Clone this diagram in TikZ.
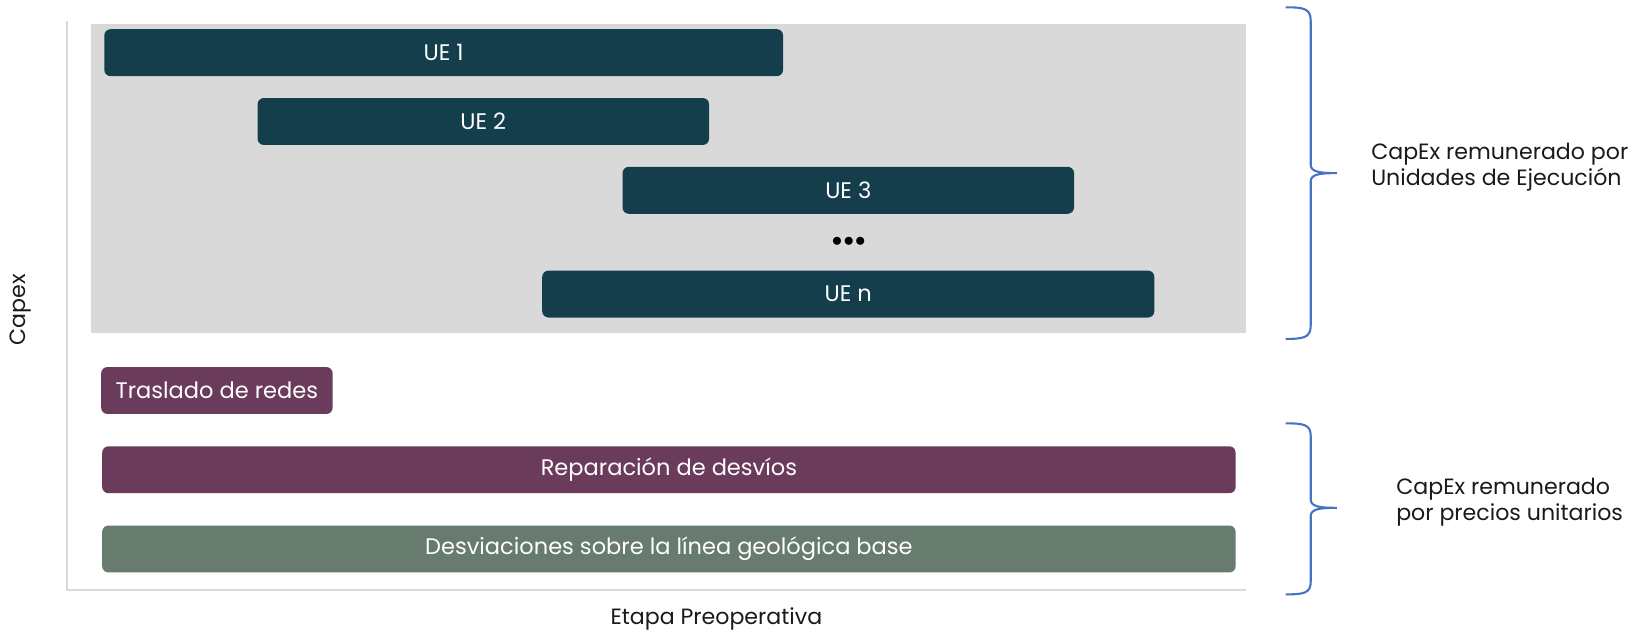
\documentclass[tikz,border=0pt]{standalone}
\usepackage{fontspec}
\setmainfont{Poppins}
\definecolor{ueteal}{HTML}{153E4D}
\definecolor{redpurple}{HTML}{6A3B5B}
\definecolor{geogreen}{HTML}{677B6F}
\definecolor{bggray}{HTML}{D9D9D9}
\definecolor{bracebl}{HTML}{4472C4}
\definecolor{labtxt}{HTML}{1A1A1A}
\tikzset{
  bar/.style={rounded corners=3pt, text=white, font=\fontsize{10.8}{12}\selectfont, minimum height=22.5pt, inner sep=0pt},
  lab/.style={text=labtxt, font=\fontsize{10.6}{12.5}\selectfont, align=left},
  brc/.style={draw=bracebl, line width=1pt}
}
\begin{document}
\begin{tikzpicture}[x=0.5pt, y=-0.5pt]
\useasboundingbox (0,0) rectangle (1568,606);
\fill[bggray] (87,23) rectangle (1195,319);
\draw[bggray, line width=1pt] (64,20)--(64,566)--(1195,566);
% unidades de ejecucion
\node[bar, fill=ueteal, minimum width=325.5pt] (ue1) at (425.5,50.5){UE 1};
\node[bar, fill=ueteal, minimum width=216.5pt] (ue2) at (463.5,116.5){UE 2};
\node[bar, fill=ueteal, minimum width=216.5pt] (ue3) at (813.5,182.5){UE 3};
\node[font=\fontsize{10}{10}\selectfont] (dots) at (814,232){$\bullet\!\bullet\!\bullet$};
\node[bar, fill=ueteal, minimum width=293.5pt] (uen) at (813.5,282){UE n};
% precios unitarios
\node[bar, fill=redpurple, minimum width=111pt] (tras) at (208,374.5){Traslado de redes};
\node[bar, fill=redpurple, minimum width=543.5pt] (rep) at (641.5,450.5){Reparación de desvíos};
\node[bar, fill=geogreen, minimum width=543.5pt] (desv) at (641.5,526.5){Desviaciones sobre la línea geológica base};
\node[lab, rotate=90] (capex) at (20,297){Capex};
\node[lab] (etapa) at (687,594){Etapa Preoperativa};
% llaves
\draw[brc] (1233,7) .. controls (1250,7) and (1257,8) .. (1257,20) -- (1257,158) .. controls (1257,165) and (1266,166) .. (1282,166) .. controls (1266,166) and (1257,167) .. (1257,174) -- (1257,312) .. controls (1257,324) and (1250,325) .. (1233,325);
\draw[brc] (1233,406) .. controls (1250,406) and (1257,407) .. (1257,418) -- (1257,479) .. controls (1257,486) and (1266,487) .. (1282,487) .. controls (1266,487) and (1257,488) .. (1257,495) -- (1257,558) .. controls (1257,569) and (1250,570) .. (1233,570);
\node[lab, anchor=west] (ueinfo) at (1308,160){CapEx remunerado por\\Unidades de Ejecución};
\node[lab, anchor=west] (puinfo) at (1332,482){CapEx remunerado\\por precios unitarios};
\end{tikzpicture}
\end{document}
